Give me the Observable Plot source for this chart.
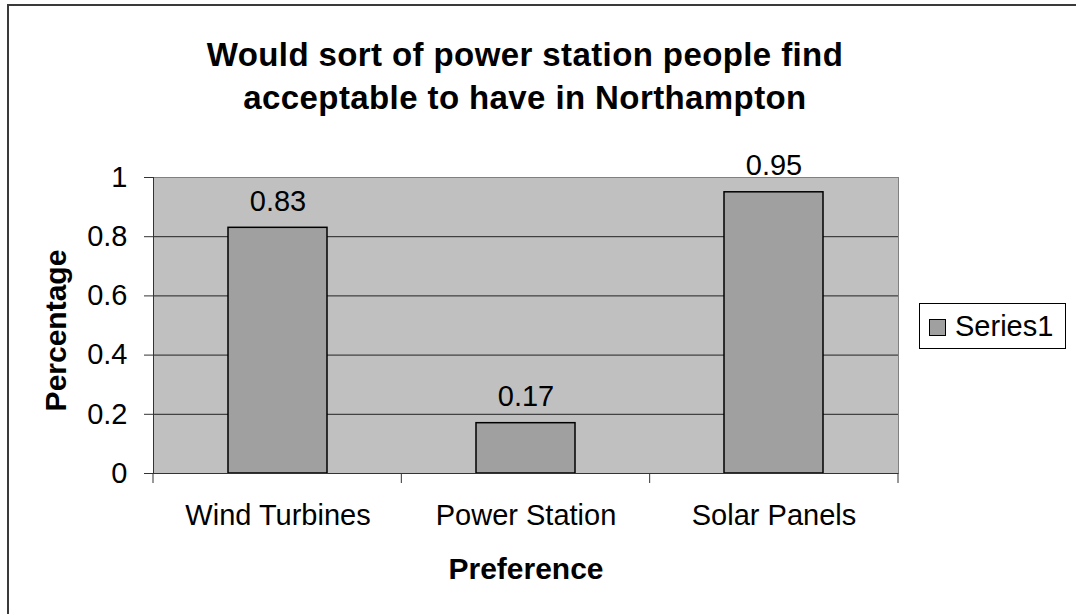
<!DOCTYPE html>
<html>
<head>
<meta charset="utf-8">
<script src="https://cdn.jsdelivr.net/npm/d3@7"></script>
<script src="https://cdn.jsdelivr.net/npm/@observablehq/plot@0.6"></script>
<style>
  html, body { margin: 0; padding: 0; background: #fff; }
  body { font-family: "Liberation Sans", Arial, sans-serif; }
  #wrap { position: relative; width: 1076px; height: 614px; overflow: hidden; background: #fff; }
  #chart { position: absolute; left: 0; top: 0; }
  #border { position: absolute; left: 7px; top: 4px; width: 1200px; height: 800px;
            border-left: 2px solid #3a3a3a; border-top: 2px solid #3a3a3a; pointer-events: none; }
  #title { position: absolute; left: 0; top: 33px; width: 1050px; text-align: center;
           font-weight: bold; font-size: 33px; line-height: 43px; letter-spacing: 0.4px; color: #000; }
  #legend { position: absolute; left: 919px; top: 303px; width: 145px; height: 44px;
            border: 1px solid #000; background: #fff; }
  #legend .sw { position: absolute; left: 9px; top: 15px; width: 15px; height: 15px;
                background: #a0a0a0; border: 1px solid #000; }
  #legend .lb { position: absolute; left: 35px; top: 6px; font-size: 29px; line-height: 32px; color: #000; }
</style>
</head>
<body>
<div id="wrap">
  <div id="chart"></div>
  <div id="title"></div>
  <div id="legend"><div class="sw"></div><div class="lb"></div></div>
  <div id="border"></div>
</div>
<script>
const categories = ["Wind Turbines", "Power Station", "Solar Panels"];
const values = [0.83, 0.17, 0.95];
const yTicks = [0, 0.2, 0.4, 0.6, 0.8, 1];
const seriesName = "Series1";
const titleLines = ["Would sort of power station people find", "acceptable to have in Northampton"];
const xLabel = "Preference";
const yLabel = "Percentage";

const barColor = "#a0a0a0";
const data = categories.map((c, i) => ({category: c, value: values[i]}));

// tick marks at the category boundaries (Excel style)
const boundaryTicks = Plot.ruleY([0], {
  render: (index, scales, vals, dims) => {
    const g = d3.create("svg:g").attr("stroke", "#333").attr("stroke-width", 1);
    const left = dims.marginLeft, right = dims.width - dims.marginRight;
    const n = categories.length;
    const y0 = scales.y(0);
    for (let i = 0; i <= n; i++) {
      const x = left + i * (right - left) / n;
      g.append("line").attr("x1", x).attr("x2", x).attr("y1", y0).attr("y2", y0 + 10);
    }
    return g.node();
  }
});

const chart = Plot.plot({
  width: 1076,
  height: 614,
  marginLeft: 153,
  marginRight: 178,
  marginTop: 177,
  marginBottom: 141,
  style: {background: "transparent", fontFamily: "'Liberation Sans', Arial, sans-serif", fontSize: "29px", color: "#000"},
  x: {domain: categories, paddingInner: 0.6, paddingOuter: 0.3, label: null},
  y: {domain: [0, 1], label: null},
  marks: [
    Plot.frame({fill: "#c0c0c0", stroke: "#808080"}),
    Plot.ruleY(yTicks.filter(t => t > 0 && t < 1), {stroke: "#222", strokeWidth: 1}),
    Plot.barY(data, {x: "category", y: "value", fill: barColor, stroke: "#000", strokeWidth: 1.5}),
    Plot.text(data, {x: "category", y: "value", text: d => String(d.value), lineAnchor: "bottom", dy: -17, fontSize: 29, fill: "#000"}),
    Plot.ruleY([0], {stroke: "#333", strokeWidth: 1.2}),
    Plot.frame({anchor: "left", stroke: "#333"}),
    Plot.axisY({ticks: yTicks, tickSize: 9, tickPadding: 17, tickFormat: d => String(d), fontSize: 29, label: null, stroke: "#333"}),
    Plot.axisX({tickSize: 0, tickPadding: 31, fontSize: 29, label: null}),
    boundaryTicks,
    Plot.text([yLabel], {text: d => d, frameAnchor: "left", rotate: -90, dx: -88, dy: 5, textAnchor: "middle", fontWeight: "bold", fontSize: 30, lineAnchor: "bottom", fill: "#000"}),
    Plot.text([xLabel], {text: d => d, frameAnchor: "bottom", dy: 105, textAnchor: "middle", fontWeight: "bold", fontSize: 30, lineAnchor: "bottom", fill: "#000"})
  ]
});
document.getElementById("chart").appendChild(chart);
document.getElementById("title").innerHTML = titleLines.map(t => `<div>${t}</div>`).join("");
document.querySelector("#legend .lb").textContent = seriesName;
document.querySelector("#legend .sw").style.background = barColor;
</script>
</body>
</html>
